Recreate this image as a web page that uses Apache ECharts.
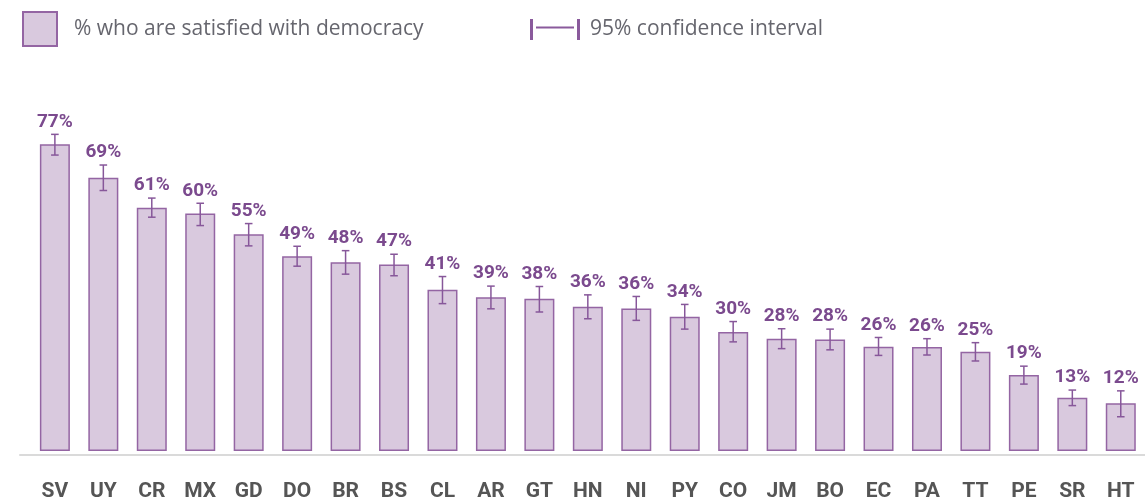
<!DOCTYPE html>
<html>
<head>
<meta charset="utf-8">
<script src="https://cdn.jsdelivr.net/npm/echarts@6/dist/echarts.min.js"></script>
<style>html,body{margin:0;padding:0;background:#fff}#c{width:1145px;height:502px}</style>
</head>
<body>
<div id="c"></div>
<script>
const categories = ['SV','UY','CR','MX','GD','DO','BR','BS','CL','AR','GT','HN','NI','PY','CO','JM','BO','EC','PA','TT','PE','SR','HT'];
const satisfied = [77, 68.6, 61.1, 59.6, 54.4, 48.9, 47.4, 46.8, 40.5, 38.6, 38.2, 36.2, 35.8, 33.7, 29.9, 28.2, 28.0, 26.2, 26.1, 24.9, 19.1, 13.4, 12.0];
const ciLow = [74.3, 65.4, 58.7, 56.6, 51.5, 46.4, 44.4, 44.0, 37.0, 35.7, 34.9, 33.2, 32.8, 30.6, 27.4, 25.7, 25.4, 24.0, 24.1, 22.6, 16.8, 11.4, 8.6];
const ciHigh = [79.5, 71.8, 63.5, 62.2, 57.1, 51.4, 50.3, 49.4, 43.8, 41.4, 41.3, 39.2, 38.8, 36.8, 32.5, 30.7, 30.6, 28.5, 28.2, 27.2, 21.3, 15.3, 15.1];
const valueLabels = ['77%','69%','61%','60%','55%','49%','48%','47%','41%','39%','38%','36%','36%','34%','30%','28%','28%','26%','26%','25%','19%','13%','12%'];

const PURPLE = '#87579a';
const chart = echarts.init(document.getElementById('c'));
const errData = categories.map((c, i) => [i, ciLow[i], ciHigh[i]]);

chart.setOption({
  animation: false,
  legend: [
    {
      left: 17, top: 6, itemWidth: 34, itemHeight: 34, selectedMode: false,
      data: [{ name: '% who are satisfied with democracy', icon: 'rect' }],
      textStyle: { color: '#66666e', fontSize: 21, fontFamily: 'Open Sans', padding: [0, 0, 0, 12] }
    },
    {
      left: 525, top: 14, itemWidth: 50, itemHeight: 21, selectedMode: false,
      data: [{
        name: '95% confidence interval',
        icon: 'path://M0,0h3v21h-3z M6,7.5h38v2h-38z M47,0h3v21h-3z',
        itemStyle: { color: '#8a5a9c', borderWidth: 0, opacity: 1 }
      }],
      textStyle: { color: '#66666e', fontSize: 21, fontFamily: 'Open Sans', padding: [0, 0, 0, 5] }
    }
  ],
  grid: [
    { left: 30.66, right: -5.4, top: 52.7, bottom: 48 },
    { left: 20, right: 0, top: 52.7, bottom: 47.5 }
  ],
  xAxis: [
    {
      type: 'category', gridIndex: 0, data: categories,
      axisLine: { show: false }, axisTick: { show: false },
      axisLabel: { color: '#555', fontSize: 21, fontWeight: 'bold', fontFamily: 'Roboto', margin: 30 }
    },
    {
      type: 'value', gridIndex: 1, min: 0, max: 1,
      axisLine: { show: true, lineStyle: { color: '#dadada', width: 2 } },
      axisTick: { show: false }, axisLabel: { show: false }, splitLine: { show: false }
    }
  ],
  yAxis: [
    { type: 'value', gridIndex: 0, min: 0, max: 100, show: false, splitLine: { show: false } },
    { type: 'value', gridIndex: 1, min: 0, max: 100, show: false, splitLine: { show: false } }
  ],
  series: [
    {
      name: '% who are satisfied with democracy', type: 'bar', barWidth: 30,
      data: satisfied,
      itemStyle: { color: '#d9c9de', borderColor: '#9465a3', borderWidth: 1.5 },
      z: 2
    },
    {
      name: '95% confidence interval', type: 'custom',
      itemStyle: { color: PURPLE },
      data: errData,
      z: 3,
      renderItem: function (params, api) {
        const x = api.value(0);
        const lo = api.coord([x, api.value(1)]);
        const hi = api.coord([x, api.value(2)]);
        const hw = 3.8;
        const st = { stroke: PURPLE, lineWidth: 1.5, fill: null };
        return {
          type: 'group',
          children: [
            { type: 'line', shape: { x1: lo[0], y1: lo[1], x2: hi[0], y2: hi[1] }, style: st },
            { type: 'line', shape: { x1: lo[0] - hw, y1: lo[1], x2: lo[0] + hw, y2: lo[1] }, style: st },
            { type: 'line', shape: { x1: hi[0] - hw, y1: hi[1], x2: hi[0] + hw, y2: hi[1] }, style: st },
            { type: 'text', x: hi[0], y: hi[1] - 12.5,
              style: { text: valueLabels[params.dataIndex], fill: '#7b4a8e', font: 'bold 19px Roboto', align: 'center', verticalAlign: 'middle' } }
          ]
        };
      }
    }
  ]
});
</script>
</body>
</html>
